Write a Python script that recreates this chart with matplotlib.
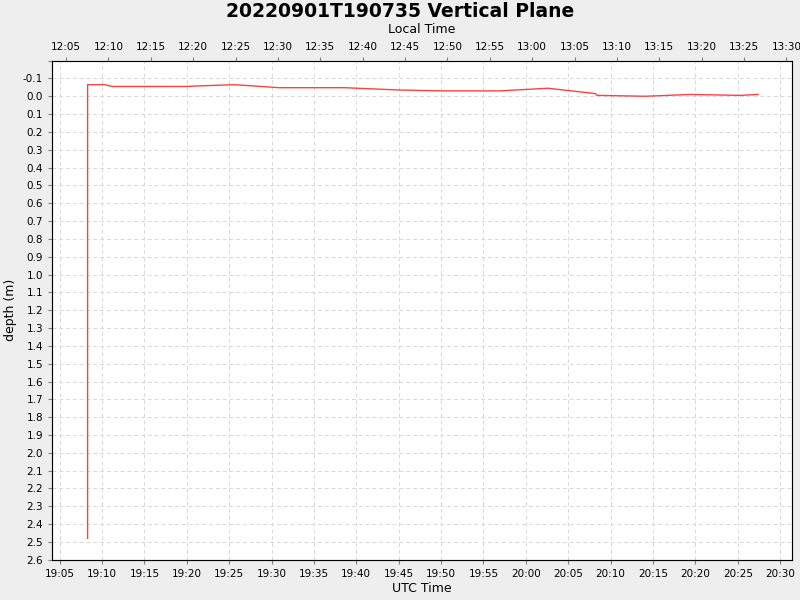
import matplotlib
matplotlib.use("Agg")
import matplotlib.pyplot as plt
from matplotlib.ticker import MultipleLocator, FuncFormatter

# time in minutes after 19:00 UTC
t_min = [8.3, 8.3, 10.3, 11.2, 19.7, 25.6, 30.9, 38.6, 45.1, 50.4, 56.9, 62.6, 68.2, 68.4, 74.1, 79.4, 85.3, 87.4]
depth = [2.48, -0.065, -0.065, -0.055, -0.055, -0.065, -0.048, -0.048, -0.035, -0.03, -0.03, -0.045, -0.015, -0.005, 0.0, -0.01, -0.005, -0.01]
local_offset = -420 - 0.75  # minutes

fig = plt.figure(figsize=(8, 6), dpi=100, facecolor="#eeeeee")
ax = fig.add_axes([0.065, 0.067, 0.925, 0.832])
ax.set_facecolor("white")
ax.plot(t_min, depth, color="#ff4040", lw=1)
ax.set_xlim(4.1, 91.4)
ax.set_ylim(2.6, -0.2)
ax.yaxis.set_major_locator(MultipleLocator(0.1))
ax.yaxis.set_major_formatter(FuncFormatter(lambda v, p: f"{v:.1f}" if abs(v + 0.2) > 1e-6 else ""))
ax.xaxis.set_major_locator(MultipleLocator(5))
def fmt(v, p, off=0):
    m = int(round(v + off)) + 19 * 60
    return f"{m // 60:02d}:{m % 60:02d}"
ax.xaxis.set_major_formatter(FuncFormatter(lambda v, p: fmt(v, p)))
ax.grid(True, color="#d8d8d8", ls=(0, (4, 3)), lw=0.7)
ax.tick_params(labelsize=7.5, length=3, color="gray")
for s in ax.spines.values():
    s.set_color("gray")
ax.set_xlabel("UTC Time", fontsize=9, labelpad=2)
ax.set_ylabel("depth (m)", fontsize=9)

ax2 = ax.twiny()
lo, hi = ax.get_xlim()
ax2.set_xlim(lo, hi)
ax2.set_xticks([5 * k + 0.75 for k in range(0, 19) if lo <= 5 * k + 0.75 <= hi])
ax2.xaxis.set_major_formatter(FuncFormatter(lambda v, p: fmt(v, p, local_offset)))
ax2.tick_params(labelsize=7.5, length=3, color="gray")
ax2.set_xlabel("Local Time", fontsize=9, labelpad=6)

fig.suptitle("20220901T190735 Vertical Plane", fontsize=13.5, fontweight="bold", y=0.997)
fig.savefig("out.png", facecolor=fig.get_facecolor())
